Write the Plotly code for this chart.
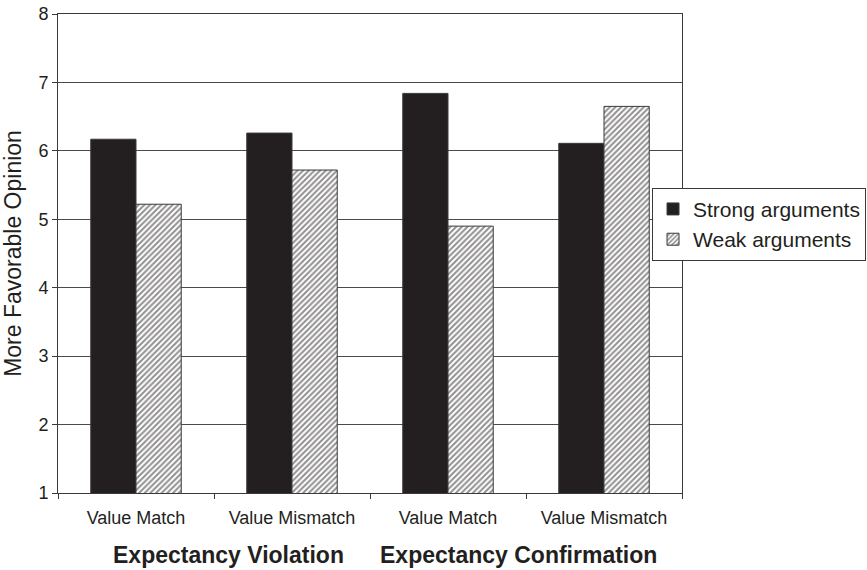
import plotly.graph_objects as go

categories = ["Value Match", "Value Mismatch", "Value Match ", "Value Mismatch "]
tick_labels = ["Value Match", "Value Mismatch", "Value Match", "Value Mismatch"]
groups = ["Expectancy Violation", "Expectancy Confirmation"]
group_pos = [0.59, 2.455]
strong = [6.17, 6.26, 6.84, 6.11]
weak = [5.22, 5.72, 4.90, 6.65]
y_ticks = [1, 2, 3, 4, 5, 6, 7, 8]

FONT = "Arial, Liberation Sans, sans-serif"
INK = "#231f20"

fig = go.Figure()
fig.add_trace(go.Bar(
    x=categories, y=strong, name="Strong arguments",
    marker=dict(color=INK, line=dict(color="#3a3a3a", width=1)),
))
fig.add_trace(go.Bar(
    x=categories, y=weak, name="Weak arguments",
    marker=dict(color="white", line=dict(color="#3a3a3a", width=1),
                pattern=dict(shape="/", fgcolor=INK, bgcolor="white",
                             size=4, solidity=0.5)),
))

fig.update_layout(
    width=867, height=570,
    margin=dict(l=58, r=185, t=14, b=77, autoexpand=False),
    paper_bgcolor="white", plot_bgcolor="white",
    font=dict(family=FONT, color=INK, size=18),
    barmode="group", bargap=0.42, bargroupgap=0,
    showlegend=True,
    legend=dict(x=1.2949, xanchor="right", y=0.561, yanchor="middle",
                bordercolor="#3a3a3a", borderwidth=1, bgcolor="white",
                font=dict(size=21, family=FONT, color=INK), tracegroupgap=0,
                itemwidth=30),
)
fig.update_xaxes(
    type="category", categoryorder="array", categoryarray=categories,
    tickmode="array", tickvals=categories, ticktext=tick_labels,
    tickson="boundaries", ticks="outside", ticklen=5, tickcolor="#3a3a3a",
    showline=True, linecolor="#3a3a3a", linewidth=1, mirror=True,
    showgrid=False, tickfont=dict(size=18), range=[-0.5, 3.5],
    ticklabelstandoff=8, automargin=False,
)
fig.update_yaxes(
    range=[1, 8], tickvals=y_ticks, ticks="outside", ticklen=5,
    tickcolor="#3a3a3a", showline=True, linecolor="#3a3a3a", linewidth=1,
    mirror=True, showgrid=True, gridcolor="#4a4a4a", gridwidth=1,
    tickfont=dict(size=18), zeroline=False, automargin=False,
    title=dict(text="More Favorable Opinion", font=dict(size=23), standoff=10),
)
for g, gx in zip(groups, group_pos):
    fig.add_annotation(x=gx, y=-0.129, xref="x", yref="paper",
                       text="<b>" + g + "</b>", showarrow=False,
                       font=dict(size=23, family=FONT, color=INK),
                       yanchor="middle")

fig.write_html("out.html", config={"displayModeBar": False},
               post_script="document.body.style.margin='0';")
